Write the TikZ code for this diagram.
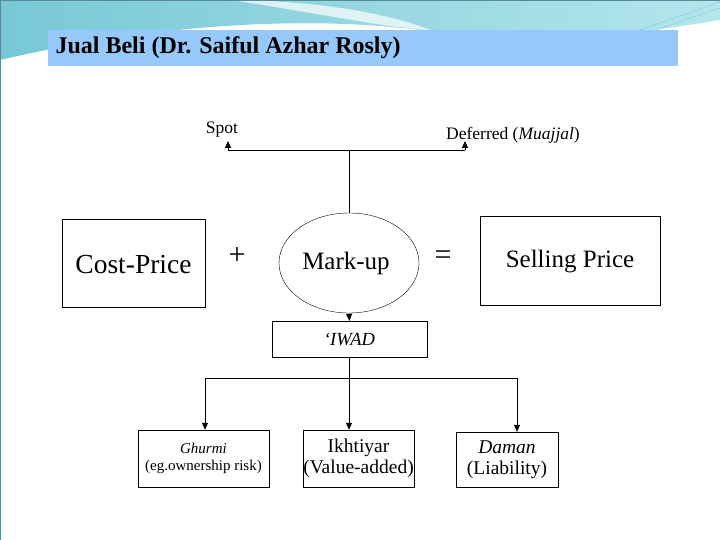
\documentclass[tikz,border=0pt]{standalone}
\usepackage{fontspec}
\setmainfont{Liberation Serif}
\usetikzlibrary{arrows.meta,shapes.geometric}
\definecolor{banner}{RGB}{150,200,250}
\definecolor{teal1}{RGB}{120,200,215}
\definecolor{teal2}{RGB}{180,230,235}
\begin{document}
\begin{tikzpicture}[x=1pt,y=-1pt,
  box/.style={draw,thick,inner sep=0pt},
  lab/.style={font=\fontsize{17.5}{20}\selectfont},
  arr/.style={-{Triangle[length=7pt,width=6pt]}}]
\useasboundingbox (0,0) rectangle (720,540);
\fill[white] (0,0) rectangle (720,540);
% decorative top
\shade[left color=teal1,right color=teal2] (0,0) -- (720,0) -- (720,20) .. controls (600,40) and (500,45) .. (420,30) .. controls (300,15) and (150,25) .. (0,60) -- cycle;
\fill[white,opacity=0.7] (230,0) .. controls (300,10) and (400,30) .. (430,30) .. controls (380,10) and (300,0) .. (230,0);
\draw[teal1] (640,30) -- (720,2);
\draw[teal1] (650,32) -- (720,8);
\draw[teal1!70!black,line width=0.8pt] (0,0) rectangle (720,540);
\fill[banner] (48,30) rectangle (678,66);
\node[anchor=west,font=\bfseries\fontsize{24}{26}\selectfont] (title) at (52,48) {Jual Beli (Dr. Saiful Azhar Rosly)};

\node[box,minimum width=143pt,minimum height=88pt] (cost) at (133.5,263) {};
\node[font=\fontsize{27.5}{30}\selectfont] (costt) at (133.5,265) {Cost-Price};
\node[font=\fontsize{30}{32}\selectfont] (plus) at (237,256) {+};
\node[draw,ellipse,minimum width=140pt,minimum height=100pt,inner sep=0pt] (mark) at (349,263) {};
\node[font=\fontsize{25}{28}\selectfont] (markt) at (346,263) {Mark-up};
\node[font=\fontsize{30}{32}\selectfont] (eq) at (443,258) {=};
\node[box,minimum width=180pt,minimum height=89pt] (sell) at (570,260.5) {};
\node[font=\fontsize{25}{28}\selectfont] (sellt) at (570,262) {Selling Price};

\node[lab] (spot) at (222,130) {Spot};
\node[lab] (def) at (513,135) {Deferred (\textit{Muajjal})};
\coordinate (j1) at (349,150);
\coordinate (sp) at (228,150);
\coordinate (df) at (465,150);
\coordinate (spa) at (228,141);
\coordinate (dfa) at (465,141);
\draw[thick] (mark.north) -- (j1);
\draw[thick] (sp) -- (df);
\draw[thick,arr] (sp) -- (spa);
\draw[thick,arr] (df) -- (dfa);

\node[draw,minimum width=155pt,minimum height=36pt,inner sep=0pt,font=\itshape\fontsize{18.5}{20}\selectfont] (iwad) at (349.5,339) {`IWAD};
\draw[arr] (mark.south) -- (iwad.north);

\node[draw,minimum width=131pt,minimum height=57pt,align=center,inner sep=0pt,font=\fontsize{15}{17}\selectfont] (gh) at (203.5,458.5) {\textit{Ghurmi}\\(eg.ownership risk)};
\node[draw,minimum width=109pt,minimum height=57pt,align=center,inner sep=0pt,font=\fontsize{19.5}{21}\selectfont] (ik) at (358.5,458.5) {Ikhtiyar\\(Value-added)};
\node[draw,minimum width=102pt,minimum height=55pt,align=center,inner sep=0pt,font=\fontsize{19.5}{21}\selectfont] (dm) at (507,459.5) {\textit{Daman}\\(Liability)};

\coordinate (j2) at (349,378);
\coordinate (l2) at (205,378);
\coordinate (r2) at (517,378);
\draw[thick] (349,357) -- (j2);
\draw[thick] (l2) -- (r2);
\draw[thick,arr] (l2) -- (l2 |- gh.north);
\draw[thick,arr] (j2) -- (j2 |- ik.north);
\draw[thick,arr] (r2) -- (r2 |- dm.north);
\end{tikzpicture}
\end{document}
